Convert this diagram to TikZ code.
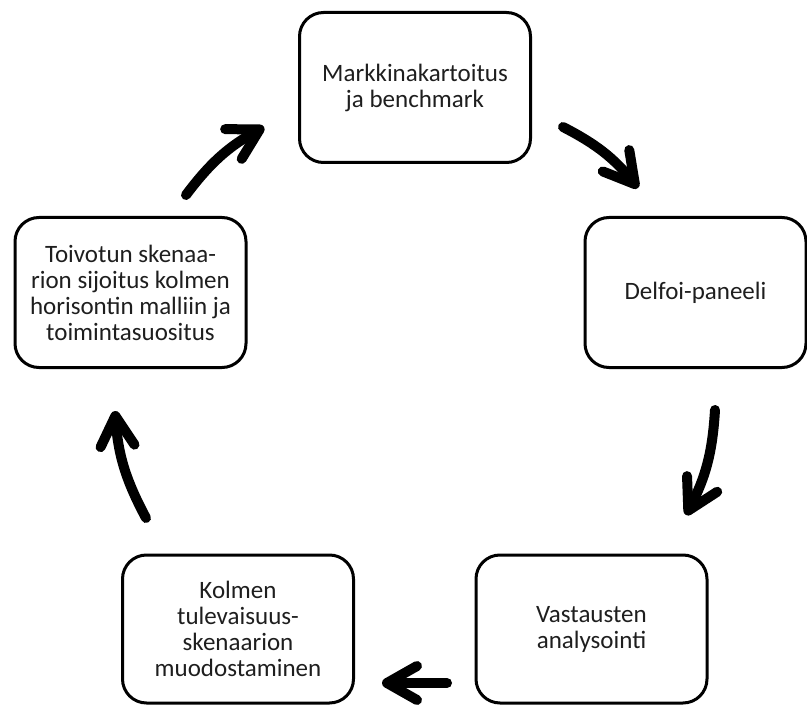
\documentclass[tikz,border=0pt]{standalone}
\usepackage{fontspec}
\setmainfont{Carlito}
\usetikzlibrary{arrows.meta}
\definecolor{StageLine}{RGB}{0,0,0}
\definecolor{StageText}{RGB}{30,30,30}
\tikzset{
  stage/.style={draw=StageLine, line width=3pt, rounded corners=24pt,
                minimum width=231pt, minimum height=150pt, align=center,
                font=\fontsize{25}{26}\selectfont, text=StageText},
  cyc/.style={-{Straight Barb[length=30pt,width=34pt,round]}, line width=10pt,
              line cap=round, color=StageLine}
}
\begin{document}
\begin{tikzpicture}[x=1pt,y=-1pt]
\useasboundingbox (0,0) rectangle (807,706);
\node[stage] (mark) at (415,87.5) {Markkinakartoitus\\ja benchmark};
\node[stage, minimum width=221pt] (delfoi) at (695.5,292.5) {Delfoi-paneeli};
\node[stage, minimum height=148pt] (vast) at (591.5,629) {Vastausten\\analysointi};
\node[stage, minimum height=148pt] (kolmen) at (238,629) {Kolmen\\tulevaisuus-\\skenaarion\\muodostaminen};
\node[stage] (toivo) at (130.5,292.5) {Toivotun skenaa-\\rion sijoitus kolmen\\horisontin malliin ja\\toimintasuositus};
% arrow ends
\coordinate (a1s) at (186,195);  \coordinate (a1e) at (264,127);
\coordinate (a2s) at (563,127);  \coordinate (a2e) at (638,188);
\coordinate (a3s) at (715,410);  \coordinate (a3e) at (686,515);
\coordinate (a4s) at (447,683);  \coordinate (a4e) at (382,683);
\coordinate (a5s) at (146,518);  \coordinate (a5e) at (115,411);
\draw[cyc] (a1s) to[bend left=12] (a1e);
\draw[cyc] (a2s) to[bend left=12] (a2e);
\draw[cyc] (a3s) to[bend left=12] (a3e);
\draw[cyc] (a4s) -- (a4e);
\draw[cyc] (a5s) to[bend left=12] (a5e);
\end{tikzpicture}
\end{document}
